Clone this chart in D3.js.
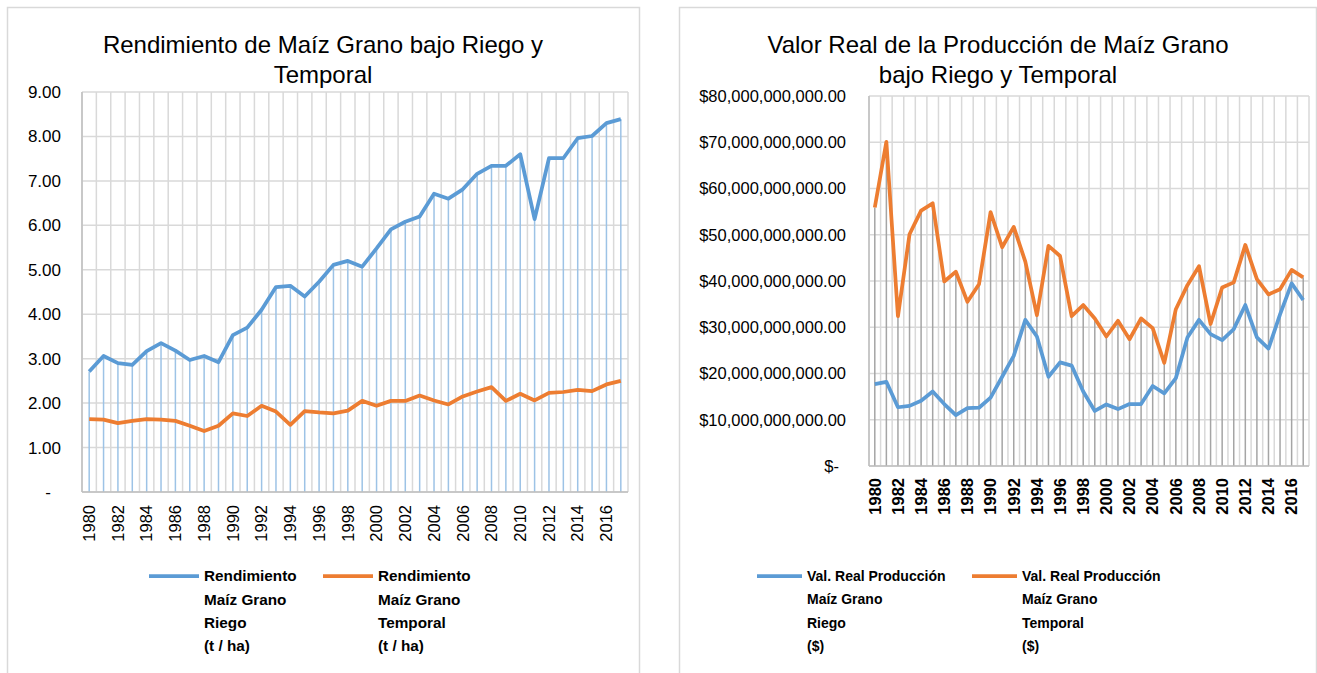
<!DOCTYPE html>
<html>
<head>
<meta charset="utf-8">
<script src="https://cdn.jsdelivr.net/npm/d3@7/dist/d3.min.js"></script>
<style>
  html, body { margin: 0; padding: 0; background: #ffffff; }
  svg { display: block; font-family: "Liberation Sans", Arial, sans-serif; }
</style>
</head>
<body>
<svg id="chart" width="1317" height="673"></svg>
<script>
// ---------- DATA ----------
const years = d3.range(1980, 2018);
const yearLabels = years.filter(y => (y - 1980) % 2 === 0);

const rendRiego = [2.71, 3.06, 2.90, 2.86, 3.17, 3.35, 3.18, 2.97, 3.06, 2.92,
                   3.53, 3.70, 4.10, 4.61, 4.64, 4.40, 4.73, 5.11, 5.20, 5.07,
                   5.48, 5.91, 6.08, 6.20, 6.71, 6.60, 6.81, 7.16, 7.34, 7.34,
                   7.60, 6.14, 7.51, 7.51, 7.96, 8.01, 8.30, 8.39];
const rendTemporal = [1.64, 1.63, 1.55, 1.60, 1.64, 1.63, 1.60, 1.49, 1.37, 1.49,
                      1.77, 1.71, 1.94, 1.81, 1.51, 1.82, 1.79, 1.77, 1.83, 2.05,
                      1.94, 2.05, 2.05, 2.17, 2.06, 1.97, 2.15, 2.26, 2.36, 2.05,
                      2.21, 2.06, 2.23, 2.25, 2.30, 2.27, 2.42, 2.50];
// values in billions of pesos
const valRiego = [17.7, 18.2, 12.7, 13.0, 14.1, 16.1, 13.4, 11.0, 12.5, 12.6,
                  14.8, 19.3, 23.8, 31.6, 28.0, 19.3, 22.4, 21.7, 16.1, 11.9,
                  13.3, 12.3, 13.4, 13.4, 17.3, 15.7, 19.0, 27.8, 31.6, 28.5,
                  27.2, 29.6, 34.8, 27.8, 25.4, 32.8, 39.5, 35.9];
const valTemporal = [55.9, 70.1, 32.4, 50.1, 55.2, 56.8, 39.9, 42.0, 35.5, 39.3,
                     54.9, 47.3, 51.7, 44.2, 32.6, 47.6, 45.4, 32.4, 34.8, 31.9,
                     28.0, 31.4, 27.4, 31.9, 29.8, 22.3, 33.9, 39.1, 43.2, 30.7,
                     38.6, 39.7, 47.8, 40.4, 37.1, 38.2, 42.4, 40.8];

const rendTicks = d3.range(0, 10, 1);
const valTicks = d3.range(0, 90, 10);

const titleLeft = ["Rendimiento de Maíz Grano bajo Riego y", "Temporal"];
const titleRight = ["Valor Real de la Producción de Maíz Grano", "bajo Riego y Temporal"];
const legendLeft = [
  ["Rendimiento", "Maíz Grano", "Riego", "(t / ha)"],
  ["Rendimiento", "Maíz Grano", "Temporal", "(t / ha)"]
];
const legendRight = [
  ["Val. Real Producción", "Maíz Grano", "Riego", "($)"],
  ["Val. Real Producción", "Maíz Grano", "Temporal", "($)"]
];

// ---------- STYLE ----------
const BLUE = "#5B9BD5", ORANGE = "#ED7D31";
const GRID = "#D9D9D9", AXIS = "#BFBFBF", TXT = "#000000";

const svg = d3.select("#chart");

function drawChart(cfg) {
  const g = svg.append("g");
  // frame
  g.append("rect")
    .attr("x", cfg.frame[0] + 0.5).attr("y", 7.5)
    .attr("width", cfg.frame[1] - cfg.frame[0]).attr("height", 700)
    .attr("fill", "#fff").attr("stroke", GRID).attr("stroke-width", 1.5);

  // titles
  cfg.title.forEach((t, i) => {
    g.append("text").attr("x", cfg.titleX).attr("y", 53 + i * 30)
      .attr("text-anchor", "middle").attr("font-size", 24).attr("fill", TXT).text(t);
  });

  const x = d3.scaleBand().domain(years).range([cfg.px0, cfg.px1]).padding(0);
  const y = d3.scaleLinear().domain([0, cfg.ymax]).range([cfg.py1, cfg.py0]);
  const bw = x.bandwidth();

  // horizontal gridlines
  g.append("g").selectAll("line").data(cfg.ticks).join("line")
    .attr("x1", cfg.px0).attr("x2", cfg.px1)
    .attr("y1", d => y(d)).attr("y2", d => y(d))
    .attr("stroke", GRID).attr("stroke-width", 1.5);

  // vertical gridlines at category boundaries
  const bounds = years.map(v => x(v)).concat([x(years[years.length - 1]) + bw]);
  g.append("g").selectAll("line").data(bounds).join("line")
    .attr("x1", d => d).attr("x2", d => d)
    .attr("y1", cfg.py0).attr("y2", cfg.py1)
    .attr("stroke", GRID).attr("stroke-width", 1.5);

  // drop lines
  g.append("g").selectAll("line").data(years).join("line")
    .attr("x1", d => x(d) + bw / 2).attr("x2", d => x(d) + bw / 2)
    .attr("y1", (d, i) => y(Math.max(cfg.s1[i], cfg.s2[i])))
    .attr("y2", cfg.py1)
    .attr("stroke", cfg.dropColor).attr("stroke-width", 1.5);

  // axis lines
  g.append("line").attr("x1", cfg.px0).attr("x2", cfg.px0)
    .attr("y1", cfg.py0).attr("y2", cfg.py1).attr("stroke", AXIS).attr("stroke-width", 1.5);
  g.append("line").attr("x1", cfg.px0).attr("x2", cfg.px1)
    .attr("y1", cfg.py1).attr("y2", cfg.py1).attr("stroke", AXIS).attr("stroke-width", 1.5);

  // series lines
  const line = d3.line().x((d, i) => x(years[i]) + bw / 2).y(d => y(d));
  [[cfg.s2, ORANGE], [cfg.s1, BLUE]].forEach(([s, c]) => {
    g.append("path").datum(s).attr("d", line)
      .attr("fill", "none").attr("stroke", c).attr("stroke-width", 3.75)
      .attr("stroke-linejoin", "round");
  });

  // y labels
  g.append("g").selectAll("text").data(cfg.ticks).join("text")
    .attr("x", d => d === 0 ? cfg.ylabX - cfg.zeroShift : cfg.ylabX)
    .attr("y", d => y(d)).attr("dy", "0.35em")
    .attr("text-anchor", "end").attr("font-size", cfg.yFont).attr("fill", TXT)
    .text(cfg.yfmt);

  // x labels
  g.append("g").selectAll("text").data(yearLabels).join("text")
    .attr("transform", d => `translate(${x(d) + bw / 2},${cfg.py1 + cfg.xGap}) rotate(-90)`)
    .attr("dy", "0.35em").attr("text-anchor", "end")
    .attr("font-size", 16.5).attr("font-weight", cfg.xBold ? "bold" : "normal")
    .attr("fill", TXT).text(d => d);

  // legend
  cfg.legend.forEach((lines, k) => {
    const lx = cfg.legX[k];
    g.append("line").attr("x1", lx).attr("x2", lx + cfg.legLen)
      .attr("y1", 576).attr("y2", 576)
      .attr("stroke", k === 0 ? BLUE : ORANGE).attr("stroke-width", 3.75);
    lines.forEach((t, j) => {
      g.append("text").attr("x", lx + cfg.legLen + 5).attr("y", 576 + j * 23.3)
        .attr("dy", "0.35em").attr("font-size", cfg.legFont).attr("font-weight", "bold")
        .attr("fill", TXT).text(t);
    });
  });
}

drawChart({
  frame: [7, 639], titleX: 323, title: titleLeft,
  px0: 82, px1: 628, py0: 92, py1: 492, ymax: 9, ticks: rendTicks,
  s1: rendRiego, s2: rendTemporal, dropColor: "#9DC3E6",
  ylabX: 61, zeroShift: 10, yFont: 17,
  yfmt: d => d === 0 ? "-" : d.toFixed(2),
  xGap: 13, xBold: false,
  legend: legendLeft, legX: [149, 323], legLen: 50, legFont: 15.3
});

drawChart({
  frame: [679, 1316], titleX: 998, title: titleRight,
  px0: 869, px1: 1309, py0: 96, py1: 466, ymax: 80, ticks: valTicks,
  s1: valRiego, s2: valTemporal, dropColor: "#A5A5A5",
  ylabX: 846, zeroShift: 7, yFont: 16.5,
  yfmt: d => d === 0 ? "$-" : "$" + d3.format(",.2f")(d * 1e9),
  xGap: 12, xBold: true,
  legend: legendRight, legX: [757, 972], legLen: 45, legFont: 14
});
</script>
</body>
</html>
